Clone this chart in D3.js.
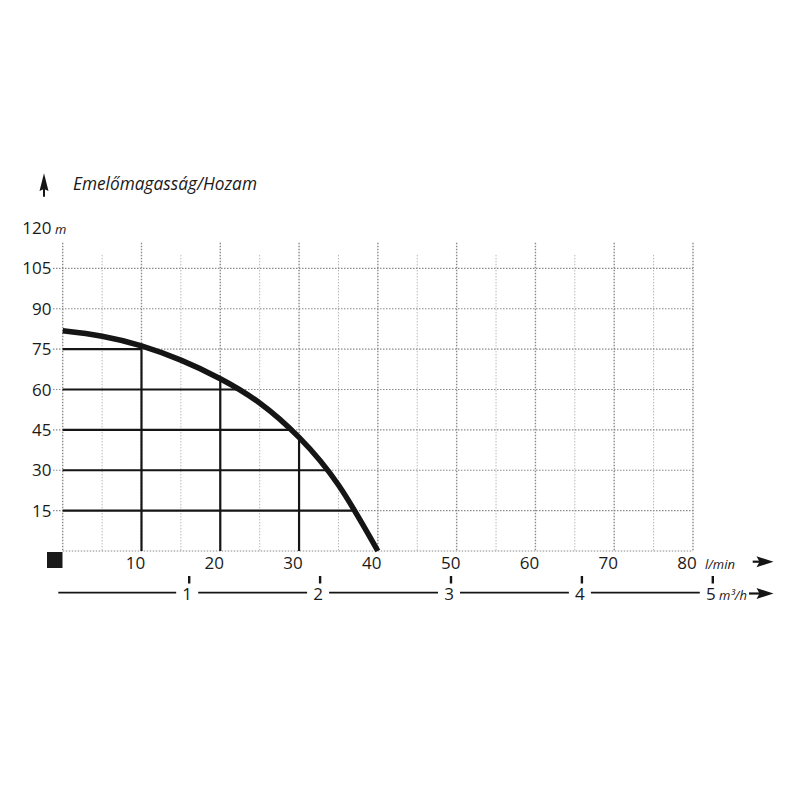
<!DOCTYPE html>
<html>
<head>
<meta charset="utf-8">
<script src="https://cdn.jsdelivr.net/npm/d3@7"></script>
<style>
  html, body { margin: 0; padding: 0; background: #fff; }
  svg { display: block; }
  text { font-family: "Open Sans", "Noto Sans", sans-serif; fill: #1a1a1a; }
</style>
</head>
<body>
<svg id="chart" width="800" height="800"></svg>
<script>
// ---- data ----
const title = "Emelőmagasság/Hozam";
const headUnit = "m";
const flowUnit = "l/min";
const flowUnit2 = "m³/h";
const headTicks = [15, 30, 45, 60, 75, 90, 105, 120];
const flowTicks = [10, 20, 30, 40, 50, 60, 70, 80];
const flowMinorTicks = [5, 15, 25, 35, 45, 55, 65, 75];
const m3hTicks = [1, 2, 3, 4, 5];
// pump curve (l/min, m)
const curveFlow = [0, 5, 10, 15, 20, 25, 30, 35, 40];
const curveHead = [81.8, 79.8, 76.2, 70.9, 64.0, 55.0, 42.2, 24.5, 0];
// reference lines: vertical (flow -> head on curve), horizontal (head -> flow on curve)
const refFlows = [10, 20, 30];
const refFlowHeads = [76.2, 64, 42.2];
const refHeads = [15, 30, 45, 60, 75];
const refHeadFlows = [37.1, 33.7, 28.8, 22.2, 10];

// ---- scales ----
const svg = d3.select("#chart");
const x = d3.scaleLinear().domain([0, 80]).range([62.7, 693]);
const y = d3.scaleLinear().domain([0, 120]).range([551, 228]);
const x2 = d3.scaleLinear().domain([0, 5]).range([58.3, 712.8]);
const gridTopMajor = 114.5, gridTopMinor = 110;

// ---- grid ----
const grid = svg.append("g");
grid.selectAll("line.minor").data(flowMinorTicks).join("line")
  .attr("x1", d => x(d)).attr("x2", d => x(d))
  .attr("y1", y(gridTopMinor)).attr("y2", y(0))
  .attr("stroke", "#b8b8b8").attr("stroke-width", 1).attr("stroke-dasharray", "1.5,1.5");
grid.selectAll("line.major").data([0].concat(flowTicks)).join("line")
  .attr("x1", d => x(d)).attr("x2", d => x(d))
  .attr("y1", y(gridTopMajor)).attr("y2", y(0))
  .attr("stroke", "#8a8a8a").attr("stroke-width", 1.4).attr("stroke-dasharray", "1.5,1.5");
grid.selectAll("line.h").data(headTicks.filter(d => d < 120)).join("line")
  .attr("x1", 53).attr("x2", x(80))
  .attr("y1", d => y(d)).attr("y2", d => y(d))
  .attr("stroke", "#8a8a8a").attr("stroke-width", 1.2).attr("stroke-dasharray", "1.5,1.5");
grid.append("line")
  .attr("x1", x(0)).attr("x2", x(80)).attr("y1", y(0)).attr("y2", y(0))
  .attr("stroke", "#8a8a8a").attr("stroke-width", 1.2).attr("stroke-dasharray", "1.5,1.5");

// ---- reference lines ----
const ref = svg.append("g").attr("stroke", "#151515").attr("stroke-width", 2.2);
ref.selectAll("line.v").data(refFlows).join("line")
  .attr("x1", d => x(d)).attr("x2", d => x(d))
  .attr("y1", y(0)).attr("y2", (d, i) => y(refFlowHeads[i]));
ref.selectAll("line.hh").data(refHeads).join("line")
  .attr("x1", x(0)).attr("x2", (d, i) => x(refHeadFlows[i]))
  .attr("y1", d => y(d)).attr("y2", d => y(d));

// ---- pump curve ----
const pts = curveFlow.map((f, i) => [f, curveHead[i]]);
svg.append("path")
  .datum(pts)
  .attr("fill", "none").attr("stroke", "#151515").attr("stroke-width", 5.5)
  .attr("d", d3.line().x(d => x(d[0])).y(d => y(d[1])).curve(d3.curveNatural));

// ---- y labels ----
svg.selectAll("text.yl").data(headTicks).join("text")
  .attr("x", 51.5).attr("y", d => y(d) + 6)
  .attr("text-anchor", "end").attr("font-size", 17)
  .text(d => d);
svg.append("text").attr("x", 55).attr("y", y(120) + 6)
  .attr("font-size", 13).attr("font-style", "italic").text(headUnit);

// ---- x labels ----
svg.selectAll("text.xl").data(flowTicks).join("text")
  .attr("x", d => x(d) - 6).attr("y", 569)
  .attr("text-anchor", "middle").attr("font-size", 17)
  .text(d => d);
svg.append("text").attr("x", 705).attr("y", 569)
  .attr("font-size", 13).attr("font-style", "italic").text(flowUnit);

// black square at origin
svg.append("rect").attr("x", 47).attr("y", y(0) + 1).attr("width", 15.5).attr("height", 16)
  .attr("fill", "#1a1a1a");

// ---- second axis (m³/h) ----
const ax2y = 592.7;
const gap = 11;
const segs = [];
let start = x2(0);
m3hTicks.forEach(t => { segs.push([start, x2(t) - 2 - gap]); start = x2(t) - 2 + gap; });
svg.selectAll("line.seg").data(segs).join("line")
  .attr("x1", d => d[0]).attr("x2", d => d[1])
  .attr("y1", ax2y).attr("y2", ax2y)
  .attr("stroke", "#151515").attr("stroke-width", 1.8);
svg.selectAll("line.t2").data(m3hTicks).join("line")
  .attr("x1", d => x2(d)).attr("x2", d => x2(d))
  .attr("y1", 576).attr("y2", 583.5)
  .attr("stroke", "#151515").attr("stroke-width", 2.4);
svg.selectAll("text.x2l").data(m3hTicks).join("text")
  .attr("x", d => x2(d) - 2).attr("y", 599.5)
  .attr("text-anchor", "middle").attr("font-size", 17)
  .text(d => d);
svg.append("text").attr("x", 719).attr("y", 599.5)
  .attr("font-size", 13).attr("font-style", "italic").text(flowUnit2);

// ---- arrows ----
function arrowRight(x0, xt, cy) {
  const g = svg.append("g");
  g.append("line").attr("x1", x0).attr("x2", xt - 12).attr("y1", cy).attr("y2", cy)
    .attr("stroke", "#151515").attr("stroke-width", 2.2);
  g.append("path")
    .attr("d", `M${xt - 17},${cy - 5.5} L${xt},${cy} L${xt - 17},${cy + 5.5} L${xt - 14},${cy} Z`)
    .attr("fill", "#151515");
}
arrowRight(752.7, 773.5, 561.7);
arrowRight(749, 773.5, 593.5);
// up arrow
svg.append("line").attr("x1", 44).attr("x2", 44).attr("y1", 185).attr("y2", 196.7)
  .attr("stroke", "#151515").attr("stroke-width", 2);
svg.append("path")
  .attr("d", "M44,173.3 L48.5,191 L44,189 L39.5,191 Z").attr("fill", "#151515");

// ---- title ----
svg.append("text").attr("x", 73).attr("y", 190)
  .attr("font-size", 17.3).attr("font-style", "italic").text(title);
</script>
</body>
</html>
